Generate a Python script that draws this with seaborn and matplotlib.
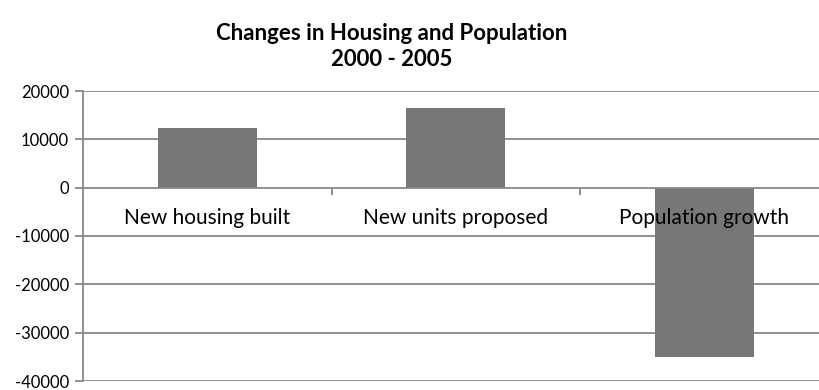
import matplotlib
matplotlib.use("Agg")
import matplotlib.pyplot as plt
import seaborn as sns
import pandas as pd

categories = ["New housing built", "New units proposed", "Population growth"]
values = [12300, 16400, -35000]
y_ticks = [-40000, -30000, -20000, -10000, 0, 10000, 20000]
title_lines = ["Changes in Housing and Population", "2000 - 2005"]

sns.set_theme(style="white")
plt.rcParams["font.family"] = ["Lato", "DejaVu Sans"]
plt.rcParams["text.color"] = "black"
plt.rcParams["xtick.color"] = "black"
plt.rcParams["ytick.color"] = "black"

df = pd.DataFrame({"cat": categories, "val": values})

fig = plt.figure(figsize=(8.19, 3.9), dpi=100)
ax = fig.add_axes([83 / 819, 1 - 381 / 390, (828.5 - 83) / 819, (381 - 91) / 390])

sns.barplot(data=df, x="cat", y="val", color="#777777", width=0.4,
            saturation=1, linewidth=0, ax=ax)
for p in ax.patches:
    p.set_zorder(1.5)

ax.set_ylim(-40000, 20000)
ax.set_xlim(-0.5, 2.5)
ax.set_yticks(y_ticks)
ax.set_yticklabels([str(v) for v in y_ticks], fontsize=12)
for v in y_ticks:
    if v != 0:
        ax.axhline(v, color="#888888", lw=1.3, zorder=1)

ax.spines["top"].set_visible(False)
ax.spines["right"].set_visible(False)
ax.spines["left"].set_color("#888888")
ax.spines["left"].set_linewidth(1.3)
ax.spines["bottom"].set_position(("data", 0))
ax.spines["bottom"].set_color("#888888")
ax.spines["bottom"].set_linewidth(1.3)

ax.set_xticks([0.5, 1.5])
ax.set_xticklabels(["", ""])
ax.tick_params(axis="x", which="major", length=5, width=1.3, color="#888888", direction="out", bottom=True)
ax.tick_params(axis="y", length=6, width=1.3, color="#888888", direction="out", left=True, pad=4, labelcolor="black")
ax.set_xlabel("")
ax.set_ylabel("")

for i, c in enumerate(categories):
    ax.text(i, -7600, c, ha="center", va="baseline", fontsize=15,
            color="black", zorder=10)

fig.text(392 / 819, 1 - 34 / 390, title_lines[0], ha="center", va="center",
         fontsize=16, fontweight="bold", color="black")
fig.text(392 / 819, 1 - 59 / 390, title_lines[1], ha="center", va="center",
         fontsize=16, fontweight="bold", color="black")

fig.savefig("out.png", dpi=100)
